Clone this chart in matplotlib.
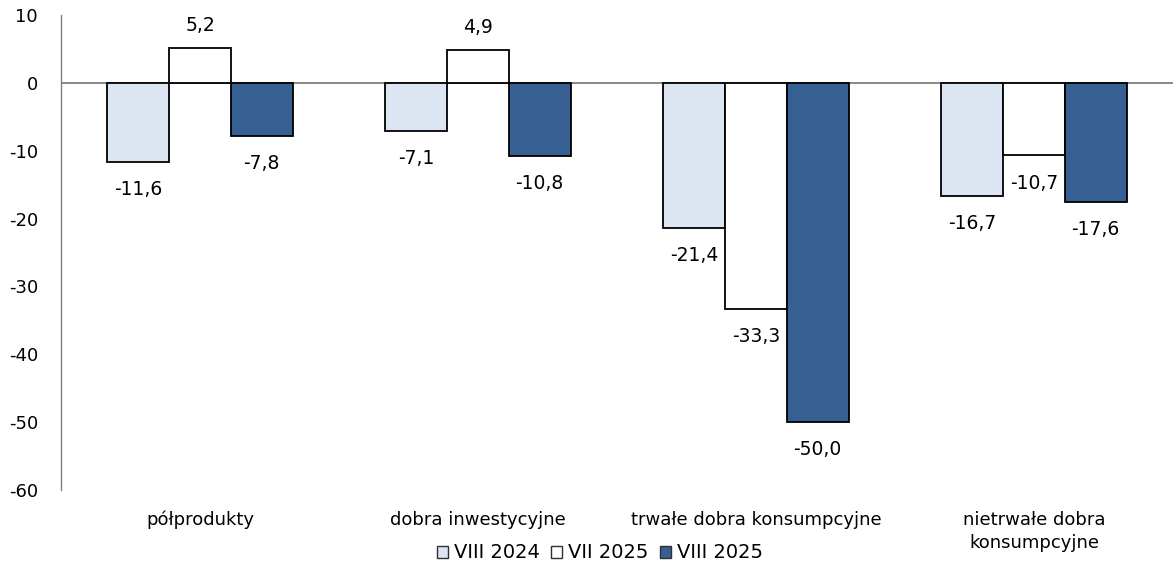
import matplotlib
matplotlib.use("Agg")
import matplotlib.pyplot as plt
import numpy as np
from matplotlib.patches import Patch

categories = ["półprodukty", "dobra inwestycyjne", "trwałe dobra konsumpcyjne", "nietrwałe dobra\nkonsumpcyjne"]
series_names = ["VIII 2024", "VII 2025", "VIII 2025"]
viii_2024 = [-11.6, -7.1, -21.4, -16.7]
vii_2025 = [5.2, 4.9, -33.3, -10.7]
viii_2025 = [-7.8, -10.8, -50.0, -17.6]
yticks = [10, 0, -10, -20, -30, -40, -50, -60]

colors = ["#dce6f2", "#ffffff", "#366092"]
series = [viii_2024, vii_2025, viii_2025]

plt.rcParams['font.family'] = ['DejaVu Sans']
FS = 13
fig = plt.figure(figsize=(11.73, 5.72), dpi=100)
ax = fig.add_axes([61/1173, 1-490/572, 1-61/1173, 475/572])

x = np.arange(len(categories))
w = 0.222
for i, (vals, c) in enumerate(zip(series, colors)):
    pos = x + (i - 1) * w
    ax.bar(pos, vals, w, color=c, edgecolor="#000000", linewidth=1.3, zorder=2)
    for p, v in zip(pos, vals):
        lab = f"{v:.1f}".replace(".", ",")
        if v >= 0:
            ax.annotate(lab, (p, v), xytext=(0, 9), textcoords="offset points",
                        ha="center", va="bottom", fontsize=13.5)
        else:
            ax.annotate(lab, (p, v), xytext=(0, -13), textcoords="offset points",
                        ha="center", va="top", fontsize=13.5)

ax.set_xlim(-0.5, len(categories) - 0.5)
ax.set_ylim(-60, 10)
ax.set_yticks(yticks)
ax.set_yticklabels([str(t) for t in yticks], fontsize=FS)
ax.set_xticks(x)
ax.set_xticklabels(categories, fontsize=FS, linespacing=1.35)
ax.tick_params(axis="x", length=0, pad=15)
ax.tick_params(axis="y", length=0, pad=16.5)
ax.axhline(0, color="#808080", linewidth=1.3, zorder=1)
for s in ["top", "right", "bottom"]:
    ax.spines[s].set_visible(False)
ax.spines["left"].set_color("#808080")
ax.spines["left"].set_linewidth(1.0)

handles = [Patch(facecolor=c, edgecolor="#303030", linewidth=1.0) for c in colors]
fig.legend(handles, series_names, loc="center", bbox_to_anchor=(600/1173, 1-553/572),
           ncol=3, frameon=False, fontsize=14, handlelength=0.57, handleheight=0.57,
           handletextpad=0.3, columnspacing=0.6, borderpad=0)

fig.savefig("out.png", dpi=100)
